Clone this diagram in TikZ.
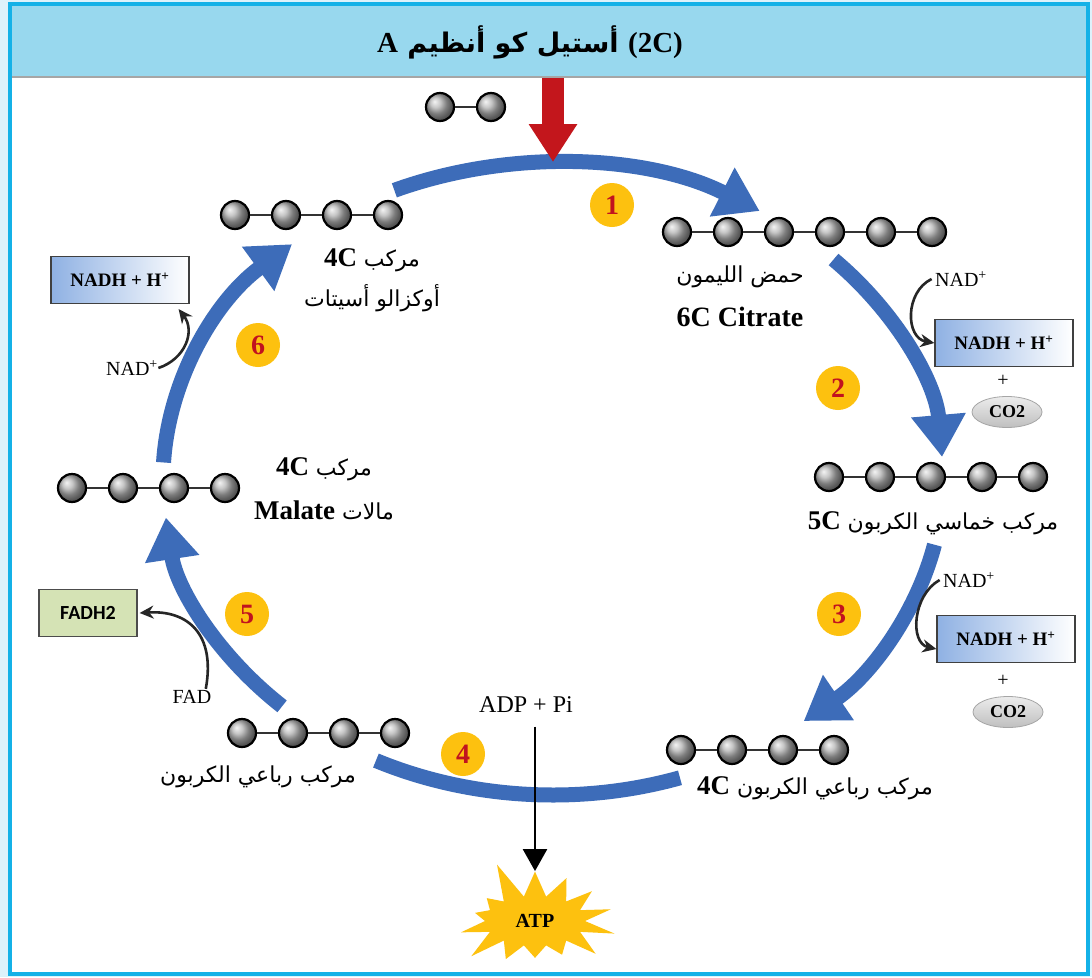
\documentclass[tikz,border=0pt]{standalone}
\usepackage{fontspec}
\setmainfont{Liberation Serif}
\newfontfamily\arabicfont[Script=Arabic]{DejaVu Sans}
\newfontfamily\fadfont{Carlito}
\TeXXeTstate=1
\usetikzlibrary{positioning,calc,arrows.meta,shapes.geometric,shapes.symbols}
\definecolor{cycblue}{HTML}{3D6CB9}
\definecolor{framecyan}{HTML}{14B1E7}
\definecolor{headblue}{HTML}{98D8EE}
\definecolor{paleblue}{HTML}{DDF2FB}
\definecolor{stepyellow}{HTML}{FDC10F}
\definecolor{stepred}{HTML}{C1121F}
\definecolor{acred}{HTML}{C3161C}
\definecolor{nadblue}{HTML}{8FB1E3}
\definecolor{fadgreen}{HTML}{D5E3B5}

\newcommand\lbold[1]{\beginL{\rmfamily\bfseries\fontsize{27}{30}\selectfont #1}\endL}
\newcommand\molchain[4]{%
  \foreach \i in {1,...,#2}
    \node[ball] (#1\i) at ({#3+(\i-1)*51},#4) {};
  \foreach \i in {2,...,#2}{
    \pgfmathtruncatemacro\prevball{\i-1}
    \draw[bond] (#1\prevball) -- (#1\i);
  }%
}

\begin{document}
\begin{tikzpicture}[
  x=1pt, y=-1pt,
  ball/.style={circle, draw=black, line width=2.2pt, shading=ball, ball color=gray!60,
               minimum size=28pt, inner sep=0pt},
  bond/.style={line width=1.6pt, black!80},
  stepnum/.style={circle, fill=stepyellow, minimum size=44pt, inner sep=0pt,
                  text=stepred, font=\bfseries\fontsize{28}{30}\selectfont},
  cycarrow/.style={draw=cycblue, line width=15pt, -{Triangle[length=42pt,width=52pt]}},
  cycband/.style={draw=cycblue, line width=15pt},
  nadhbox/.style={draw=black!75, line width=1.2pt, left color=nadblue, right color=white,
                  minimum width=138pt, minimum height=47pt,
                  font=\bfseries\fontsize{19}{21}\selectfont},
  co2/.style={ellipse, draw=gray!70, line width=0.8pt, top color=gray!15, bottom color=gray!50,
              minimum width=70pt, minimum height=31pt, inner sep=0pt,
              font=\bfseries\fontsize{18}{20}\selectfont},
  plainlbl/.style={font=\fontsize{20}{22}\selectfont},
  artext/.style={font=\arabicfont\fontsize{22}{26}\selectfont},
  latlabel/.style={font=\bfseries\fontsize{28}{30}\selectfont},
  curvearrow/.style={black!85, line width=2.6pt, -{Stealth[length=14pt,width=13pt]}},
  downarrow/.style={black, line width=2.5pt, -{Triangle[length=22pt,width=24pt]}}
]
\useasboundingbox (0,0) rectangle (1092,977);

% --- frame and header ---
\fill[paleblue] (0,0) rectangle (1092,977);
\fill[white] (10,4) rectangle (1088,974);
\fill[headblue] (10,4) rectangle (1088,76);
\draw[gray!70, line width=1.5pt] (10,77) -- (1088,77);
\draw[framecyan, line width=4pt] (10,4) rectangle (1088,974);
\node (title) at (530,42) {\arabicfont\bfseries\fontsize{27}{30}\selectfont
  \beginR\beginL{\rmfamily\fontsize{29}{30}\selectfont (2C)}\endL{} أستيل كو أنظيم \beginL{\rmfamily\fontsize{29}{30}\selectfont A}\endL\endR};

% --- cycle ---
\coordinate (cyc) at (553,479);
\coordinate (a1) at ($(cyc)+(246:390 and 316)$);
\coordinate (a2) at ($(cyc)+(316:390 and 316)$);
\coordinate (a3) at ($(cyc)+(12:390 and 316)$);
\coordinate (a4) at ($(cyc)+(71:390 and 316)$);
\coordinate (a5) at ($(cyc)+(134:390 and 316)$);
\coordinate (a6) at ($(cyc)+(183:390 and 316)$);
\draw[cycarrow] (a1) arc[start angle=246, end angle=302, x radius=390, y radius=316];
\draw[cycarrow] (a2) arc[start angle=316, end angle=356, x radius=390, y radius=316];
\draw[cycarrow] (a3) arc[start angle=12, end angle=50, x radius=390, y radius=316];
\draw[cycband]  (a4) arc[start angle=71, end angle=117, x radius=390, y radius=316];
\draw[cycarrow] (a5) arc[start angle=134, end angle=173, x radius=390, y radius=316];
\draw[cycarrow] (a6) arc[start angle=183, end angle=228, x radius=390, y radius=316];

% --- acetyl CoA entry ---
\coordinate (acin) at (553,78);
\coordinate (cyctop) at (553,162);
\draw[acred, line width=22pt, -{Triangle[length=38pt,width=46pt]}] (acin) -- (cyctop);

% --- molecules ---
\molchain{acet}{2}{440}{107}
\molchain{oxa}{4}{235}{215}
\molchain{cit}{6}{677}{232}
\molchain{five}{5}{829}{477}
\molchain{sucr}{4}{681}{750}
\molchain{sucl}{4}{242}{733}
\molchain{mal}{4}{72}{488}

% --- labels ---
\node[artext] (citar) at (740,277) {\beginR حمض الليمون\endR};
\node[latlabel] (citname) at (740,317) {6C Citrate};
\node[artext] (fivelbl) at (933,523) {\beginR مركب خماسي الكربون \lbold{5C}\endR};
\node[artext] (sucrlbl) at (815,788) {\beginR مركب رباعي الكربون \lbold{4C}\endR};
\node[artext] (sucllbl) at (258,777) {\beginR مركب رباعي الكربون\endR};
\node[artext] (mallbl) at (324,469) {\beginR مركب \lbold{4C}\endR};
\node[artext] (malname) at (324,510) {\beginR مالات \lbold{Malate}\endR};
\node[artext] (oxalbl) at (372,260) {\beginR مركب \lbold{4C}\endR};
\node[artext] (oxaname) at (372,298) {\beginR أوكزالو أسيتات\endR};

% --- steps ---
\node[stepnum] (n1) at (612,205) {1};
\node[stepnum] (n2) at (838,388) {2};
\node[stepnum] (n3) at (839,614) {3};
\node[stepnum] (n4) at (463,754) {4};
\node[stepnum] (n5) at (247,614) {5};
\node[stepnum] (n6) at (258,345) {6};

% --- step 2 products ---
\node[nadhbox] (nadh1) at (1004,343) {NADH + H\textsuperscript{+}};
\node[plainlbl] (nad1) at (961,279) {NAD\textsuperscript{+}};
\node[plainlbl] (plus1) at (1003,381) {+};
\node[co2] (co2a) at (1007,412) {CO2};
\draw[curvearrow] (nad1.west) .. controls +(-27,13) and +(-29,-5) .. (nadh1.west);

% --- step 3 products ---
\node[nadhbox] (nadh2) at (1006,639) {NADH + H\textsuperscript{+}};
\node[plainlbl] (nad2) at (969,580) {NAD\textsuperscript{+}};
\node[plainlbl] (plus2) at (1003,681) {+};
\node[co2] (co2b) at (1008,712) {CO2};
\draw[curvearrow] (nad2.west) .. controls +(-27,15) and +(-27,-6) .. ([yshift=-10pt]nadh2.west);

% --- step 4 ---
\node[plainlbl, font=\fontsize{24}{26}\selectfont] (adp) at (526,705) {ADP + Pi};
\node[starburst, fill=stepyellow, draw=none, minimum width=180pt, minimum height=130pt,
      starburst points=14, starburst point height=40pt, random starburst=5,
      font=\bfseries\fontsize{20}{22}\selectfont] (atp) at (535,921) {ATP};
\draw[downarrow, shorten <=10pt, shorten >=0pt] (adp.south -| atp) -- (atp.north);

% --- step 5 ---
\node[draw=gray!60!black, line width=1.2pt, fill=fadgreen, minimum width=98pt, minimum height=47pt,
      font=\fadfont\bfseries\fontsize{20}{22}\selectfont] (fadh) at (88,613) {FADH2};
\node[plainlbl] (fad) at (192,697) {FAD};
\draw[curvearrow] ([xshift=-9pt,yshift=-2pt]fad.north east) .. controls +(10,-55) and +(48,-3) .. ([xshift=2pt]fadh.east);

% --- step 6 ---
\node[nadhbox] (nadh3) at (120,280) {NADH + H\textsuperscript{+}};
\node[plainlbl] (nad3) at (132,368) {NAD\textsuperscript{+}};
\draw[curvearrow] ([xshift=-3pt]nad3.east) .. controls +(27,-9) and +(17,22) .. ([xshift=-11pt,yshift=-5pt]nadh3.south east);

\end{tikzpicture}
\end{document}
